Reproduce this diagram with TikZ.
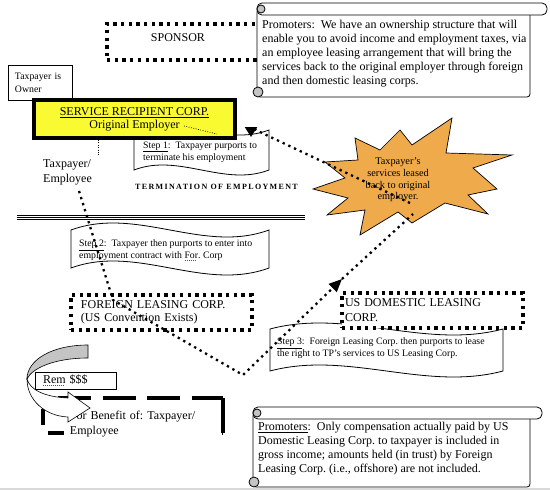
\documentclass[tikz,border=0pt]{standalone}
\usepackage{fontspec}
\setmainfont{Liberation Serif}
\usetikzlibrary{arrows.meta, positioning, calc}
\frenchspacing

\definecolor{recipyellow}{RGB}{250,250,50}
\definecolor{burstorange}{RGB}{238,170,75}
\definecolor{curlgray}{RGB}{196,196,196}

% spell-check marks under single words
\newsavebox\spellbox
\newcommand\spellmark[2]{\sbox\spellbox{#2}\rlap{\textcolor{#1}{\leaders\hbox{\rule[-2.4pt]{1.1pt}{0.7pt}\kern0.9pt}\hskip\wd\spellbox}}\usebox\spellbox}

% punched tape outline: left x, right x, top level, bottom level, wave height
\newcommand\punchtape[5]{%
  \draw[tape] (#1,#3) .. controls ({#1+(#2-#1)/3},{#3-3.46*#5}) and ({#1+2*(#2-#1)/3},{#3+3.46*#5}) .. (#2,#3)
    -- (#2,#4) .. controls ({#1+2*(#2-#1)/3},{#4+3.46*#5}) and ({#1+(#2-#1)/3},{#4-3.46*#5}) .. (#1,#4) -- cycle;}

% horizontal scroll outline: left x, roll top y, body right x, bottom y, roll right x
\newcommand\hscroll[5]{%
  \draw[scrollline, rounded corners=3pt] (#1,{#2+6}) -- (#1,#4) -- (#3,#4) -- (#3,{#2+6}) -- cycle;
  \draw[scrollline, rounded corners=5pt] (#1,#2) rectangle (#5,{#2+12});
  \draw[scrollline, fill=curlgray] ({#1+4},{#2+6}) circle (4pt);
  \draw[scrollline, fill=curlgray] ({#1+1},{#4-5}) circle (5pt);}

\begin{document}
\begin{tikzpicture}[x=1pt, y=-1pt, >=Stealth]
\useasboundingbox (0,0) rectangle (550,490);

% Styles
\tikzstyle{dotbox} = [rectangle, draw=black, line width=3.3pt, dash pattern=on 3.3pt off 4.4pt, fill=white, inner ysep=0pt]
\tikzstyle{plainbox} = [rectangle, draw=black, line width=0.7pt, fill=white]
\tikzstyle{corpbox} = [rectangle, draw=black, line width=4pt, fill=recipyellow, align=center]
\tikzstyle{tape} = [draw=black, fill=white, line width=0.8pt]
\tikzstyle{scrollline} = [draw=black, fill=white, line width=0.8pt]
\tikzstyle{link} = [line width=2.3pt, dash pattern=on 2.3pt off 4pt]
\tikzstyle{finelink} = [line width=0.7pt, dash pattern=on 0.8pt off 1.6pt]
\tikzstyle{bigfont} = [font=\fontsize{12}{14}\selectfont]
\tikzstyle{stepfont} = [font=\fontsize{9.8}{12}\selectfont]
\tikzstyle{note} = [inner sep=0pt, align=left, anchor=west]

% --- Nodes ---

% 1. Sponsor and the promoters' pitch
\node (sponsor) [dotbox, minimum width=160pt, minimum height=36pt] at (187,42) {};
\node (sponsor_txt) [bigfont] at (178,37.5) {SPONSOR};
\hscroll{257}{3}{530}{97}{547}
\node (promo_top) [note, bigfont] at (262,53.5) {Promoters:~ We have an ownership structure that will\\enable you to avoid income and employment taxes, via\\an employee leasing arrangement that will bring the\\services back to the original employer through foreign\\and then domestic leasing corps.};

% 2. Owner box
\node (owner) [plainbox, font=\fontsize{9.8}{13}\selectfont, minimum width=64pt, minimum height=35pt, text width=50pt, inner xsep=7pt, align=left] at (40,82.5) {Taxpayer is\\Owner};

% 3. Step 1 and the service recipient
\punchtape{134}{269}{130}{170}{5}
\node (recipient) [corpbox, font=\fontsize{12}{13}\selectfont, minimum width=201pt, minimum height=38pt] at (134.5,119) {\underline{SERVICE RECIPIENT CORP.}\\Original Employer};
\node (step1_txt) [note, stepfont] at (143,152) {\underline{Step 1}:~ Taxpayer purports to\\terminate his employment};
\node (termination) [font=\fontsize{8}{10}\selectfont\bfseries\addfontfeature{LetterSpace=17}] at (216.5,187) {TERMINATION OF EMPLOYMENT};
\node (tp_employee) [font=\fontsize{12}{15}\selectfont, align=left] at (67.5,172.5) {Taxpayer/\\Employee};

% triple rule
\draw[line width=1pt] (17,215.5) -- (305,215.5);
\draw[line width=1pt] (17,217.5) -- (305,217.5);
\draw[line width=1pt] (17,219.5) -- (305,219.5);

% 4. Step 2
\punchtape{71}{269}{230}{268}{7}
\node (step2_txt) [note, stepfont] at (79,250.5) {\underline{Step 2}:~ Taxpayer then purports to enter into\\employment contract with \spellmark{green!55!black}{For}. Corp};

% 5. Starburst
\draw[draw=black, fill=burstorange, line width=0.7pt] (452,118) -- (446,153) -- (512,155) -- (473,168) -- (497,189) -- (468,195) -- (488,214) -- (445,203) -- (412,223) -- (398,212) -- (360,235) -- (365,210) -- (327,215) -- (348,198) -- (313,189) -- (345,178) -- (325,162) -- (358,160) -- (355,138) -- (380,150) -- (400,130) -- (412,145) -- cycle;
\node (burst) [font=\fontsize{10.3}{11.7}\selectfont, align=center, inner sep=0pt] at (398,180) {Taxpayer’s\\services leased\\back to original\\employer.};

% 6. Leasing corps and step 3
\node (foreign) [dotbox, font=\fontsize{12}{13}\selectfont, minimum width=181pt, minimum height=35pt, text width=161pt, inner xsep=10pt, align=left] at (161.5,312.5) {FOREIGN LEASING CORP.\\(US Convention Exists)};
\punchtape{270}{503}{329}{371}{6}
\node (step3_txt) [note, stepfont] at (277,348) {\underline{Step 3}:~ Foreign Leasing Corp. then purports to lease\\the right to TP’s services to US Leasing Corp.};
\node (us_domestic) [dotbox, font=\fontsize{12}{15}\selectfont, minimum width=181pt, minimum height=35pt, text width=175pt, inner xsep=3pt, align=left] at (432.5,310.5) {US DOMESTIC LEASING\\CORP.};

% 7. Remittance for the taxpayer
\draw[line width=4pt, dash pattern=on 33pt off 11.5pt, dash phase=29.5pt] (43,398) -- (223,398);
\draw[line width=4pt] (223,398) -- (223,433);
\draw[line width=4pt, dash pattern=on 16pt off 13pt, dash phase=18pt] (43,398) -- (43,433) -- (223,433);
\node (benefit) [rectangle, fill=white, font=\fontsize{12}{15}\selectfont, minimum width=154pt, minimum height=38pt, text width=146pt, inner xsep=4pt, align=left] at (143,424.5) {For Benefit of: Taxpayer/\\Employee};
\draw[line width=0.6pt, fill=curlgray] (88,345) .. controls (52,345) and (27,360) .. (27,379) .. controls (32,368) and (55,358) .. (88,358) -- cycle;
\draw[line width=0.6pt, fill=white] (27,379) .. controls (27,400) and (45,416) .. (68,417) -- (68,422) -- (90,408) -- (68,392) -- (68,398) .. controls (45,397) and (30,390) .. (27,379) -- cycle;
\node (rem) [plainbox, bigfont, minimum width=81pt, minimum height=17pt, text width=65pt, inner xsep=8pt, inner ysep=0pt, align=left] at (75.5,380.5) {\spellmark{red}{Rem} \$\$\$};

% 8. Promoters' claim
\hscroll{253}{407}{530}{487}{542}
\node (promo_bot) [note, bigfont] at (258,449) {\underline{Promoters}:~ Only compensation actually paid by US\\Domestic Leasing Corp. to taxpayer is included in\\gross income; amounts held (in trust) by Foreign\\Leasing Corp. (i.e., offshore) are not included.};

% --- Connectors ---
\coordinate (emp_a) at (184,126);
\coordinate (emp_b) at (217,134);
\coordinate (recip_foot) at (98,140);
\coordinate (tp_head) at (98,156);
\coordinate (tp_start) at (79,191);
\coordinate (c1) at (113,300);
\coordinate (c2) at (243,375);
\coordinate (tip_c) at (342,279);
\coordinate (burst_a) at (410,203);
\coordinate (burst_b) at (413,214);
\coordinate (bend_a) at (262,133);
\coordinate (tip_a_top) at (251,127);
\coordinate (tip_a) at (251,137);

\draw[finelink] (emp_a) -- (emp_b);
\draw[finelink] (recip_foot) -- (tp_head);
\draw[link, -{Triangle[length=10pt, width=12pt]}] (burst_a) -- (bend_a) -- (tip_a_top) -- (tip_a);
\draw[link, -{Triangle[length=13pt, width=11pt]}] (tp_start) -- (c1) -- (c2) -- (tip_c);
\draw[link] (tip_c) -- (burst_b);

% window edge
\fill[gray!30] (0,488) rectangle (550,490);

\end{tikzpicture}
\end{document}
